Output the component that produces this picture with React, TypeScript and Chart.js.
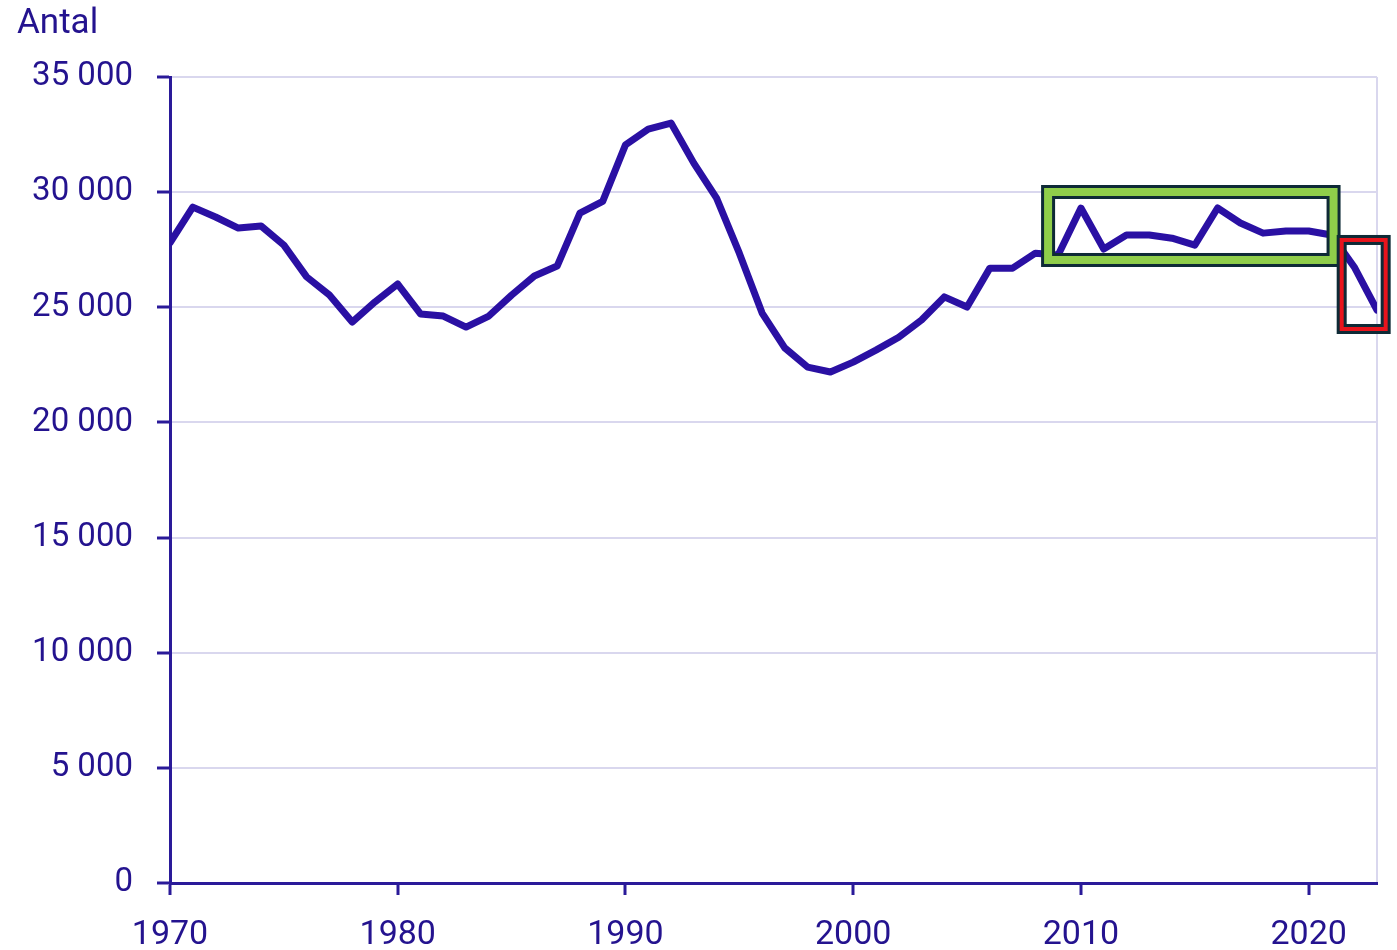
import React, { useEffect, useRef } from "react";
import { Chart, registerables } from "chart.js";

Chart.register(...registerables);

const years = [
  1970, 1971, 1972, 1973, 1974, 1975, 1976, 1977, 1978, 1979,
  1980, 1981, 1982, 1983, 1984, 1985, 1986, 1987, 1988, 1989,
  1990, 1991, 1992, 1993, 1994, 1995, 1996, 1997, 1998, 1999,
  2000, 2001, 2002, 2003, 2004, 2005, 2006, 2007, 2008, 2009,
  2010, 2011, 2012, 2013, 2014, 2015, 2016, 2017, 2018, 2019,
  2020, 2021, 2022, 2023,
];

const antal = [
  27800, 29350, 28920, 28440, 28530, 27700, 26320, 25530, 24360, 25230,
  26010, 24710, 24620, 24140, 24620, 25530, 26360, 26790, 29090, 29600,
  32050, 32740, 33000, 31260, 29740, 27350, 24750, 23230, 22400, 22190,
  22620, 23140, 23700, 24450, 25450, 25010, 26700, 26700, 27350, 27270,
  29310, 27530, 28140, 28140, 28000, 27700, 29310, 28660, 28220, 28310,
  28310, 28140, 26750, 24880,
];

const xTickValues = [1970, 1980, 1990, 2000, 2010, 2020];
const xMin = 1970;
const xMax = 2023;
const yTickStep = 5000;
const yMin = 0;
const yMax = 35000;
const yAxisTitle = "Antal";

// highlight boxes, outer edges in data units
const greenBox = { x1: 2008.25, x2: 2021.4, y1: 26750, y2: 30310 };
const redBox = { x1: 2021.23, x2: 2023.6, y1: 23840, y2: 28140 };

const TEXT = "#24138f";
const AXIS = "#2a1a99";
const LINE = "#2a10a3";
const GRID = "#d9d7ee";
const DARK = "#0e2a36";
const GREEN = "#8fce4a";
const RED = "#e8141c";

const fmt = (v: number) => String(v).replace(/\B(?=(\d{3})+(?!\d))/g, " ");

const overlayPlugin = {
  id: "overlay",
  afterDatasetsDraw(chart: any) {
    const { ctx, scales } = chart;
    const xs = scales.x;
    const ys = scales.y;
    const drawBox = (b: any, total: number, inner: number, col: string) => {
      const l = xs.getPixelForValue(b.x1);
      const r = xs.getPixelForValue(b.x2);
      const t = ys.getPixelForValue(b.y2);
      const bt = ys.getPixelForValue(b.y1);
      const h = total / 2;
      ctx.save();
      ctx.lineJoin = "miter";
      ctx.strokeStyle = DARK;
      ctx.lineWidth = total;
      ctx.strokeRect(l + h, t + h, r - l - total, bt - t - total);
      ctx.strokeStyle = col;
      ctx.lineWidth = inner;
      ctx.strokeRect(l + h, t + h, r - l - total, bt - t - total);
      ctx.restore();
    };
    drawBox(greenBox, 14, 8, GREEN);
    drawBox(redBox, 10, 4, RED);
  },
  afterDraw(chart: any) {
    const { ctx } = chart;
    ctx.save();
    ctx.fillStyle = TEXT;
    ctx.font = "35px Roboto";
    ctx.textAlign = "left";
    ctx.textBaseline = "alphabetic";
    ctx.fillText(yAxisTitle, 17, 33);
    ctx.restore();
  },
};

export default function App() {
  const ref = useRef<HTMLCanvasElement>(null);
  useEffect(() => {
    if (!ref.current) return;
    Chart.defaults.font.family = "Roboto";
    const chart = new Chart(ref.current, {
      type: "line",
      data: {
        datasets: [
          {
            data: years.map((y, i) => ({ x: y, y: antal[i] })),
            borderColor: LINE,
            borderWidth: 7,
            pointRadius: 0,
            tension: 0,
            borderJoinStyle: "round",
            borderCapStyle: "round",
            fill: false,
          },
        ],
      },
      options: {
        animation: false,
        responsive: false,
        maintainAspectRatio: false,
        layout: { padding: { left: 0, right: 19, top: 77, bottom: 0 } },
        plugins: {
          legend: { display: false },
          tooltip: { enabled: false },
          title: { display: false },
        },
        scales: {
          x: {
            type: "linear",
            min: xMin,
            max: xMax,
            afterBuildTicks(scale: any) {
              scale.ticks = [...xTickValues, xMax].map((v) => ({ value: v }));
            },
            afterFit(scale: any) {
              scale.height = 67;
            },
            ticks: {
              autoSkip: false,
              maxRotation: 0,
              color: TEXT,
              font: { size: 34 },
              padding: 20,
              callback: (v: any) => (xTickValues.includes(Number(v)) ? String(v) : ""),
            },
            grid: {
              drawOnChartArea: true,
              color: (c: any) => (c.tick && c.tick.value === xMax ? GRID : "rgba(0,0,0,0)"),
              tickColor: (c: any) => (c.tick && c.tick.value === xMax ? "rgba(0,0,0,0)" : AXIS),
              tickLength: 12,
              lineWidth: 2,
              tickWidth: 3,
            },
            border: { display: true, color: AXIS, width: 3 },
          },
          y: {
            min: yMin,
            max: yMax,
            afterFit(scale: any) {
              scale.width = 170;
            },
            ticks: {
              stepSize: yTickStep,
              color: TEXT,
              font: { size: 33 },
              padding: 24,
              callback: (v: any) => fmt(Number(v)),
            },
            grid: {
              color: GRID,
              tickColor: AXIS,
              tickLength: 13,
              lineWidth: 2,
              tickWidth: 3,
            },
            border: { display: true, color: AXIS, width: 3 },
          },
        },
      },
      plugins: [overlayPlugin],
    } as any);
    return () => chart.destroy();
  }, []);
  return (
    <div style={{ position: "fixed", left: 0, top: 0, width: 1397, height: 950, background: "#fff" }}>
      <canvas ref={ref} width={1397} height={950} style={{ width: 1397, height: 950 }} />
    </div>
  );
}
